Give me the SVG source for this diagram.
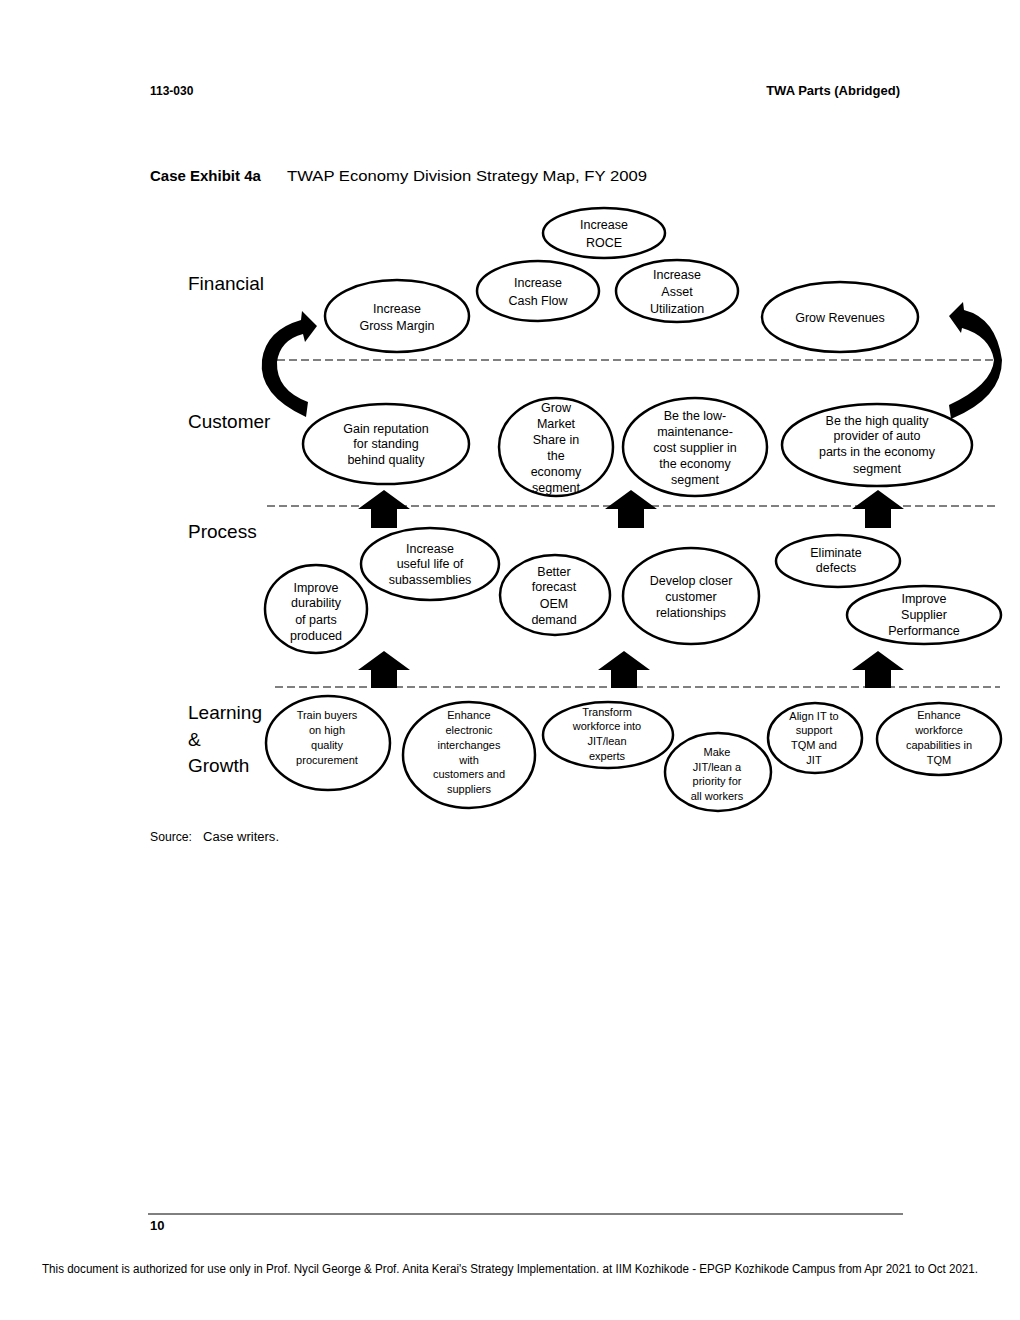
<svg xmlns="http://www.w3.org/2000/svg" width="1020" height="1320" viewBox="0 0 1020 1320">
<style>
text{font-family:"Liberation Sans",Arial,sans-serif;fill:#000}
.n ellipse{fill:#fff;stroke:#000;stroke-width:2.5}
.n text{text-anchor:middle;font-size:12.5px}
.s text{font-size:11px}
.lbl{font-size:19px}
.dash{stroke:#000;stroke-width:1;stroke-dasharray:8 4;fill:none}
.arr{fill:#000}
</style>
<rect width="1020" height="1320" fill="#fff"/>
<text x="150" y="95" font-size="12" font-weight="bold">113-030</text>
<text x="900" y="95" font-size="13" font-weight="bold" text-anchor="end">TWA Parts (Abridged)</text>
<text x="150" y="181" font-size="15" font-weight="bold">Case Exhibit 4a</text>
<text x="287" y="181" font-size="15.5" textLength="360" lengthAdjust="spacingAndGlyphs">TWAP Economy Division Strategy Map, FY 2009</text>

<text class="lbl" x="188" y="290">Financial</text>
<text class="lbl" x="188" y="428">Customer</text>
<text class="lbl" x="188" y="538">Process</text>
<text class="lbl" x="188" y="719">Learning</text>
<text class="lbl" x="188" y="746">&amp;</text>
<text class="lbl" x="188" y="772">Growth</text>

<g id="connectors">
<line class="dash" x1="265" y1="360" x2="1000" y2="360"/>
<line class="dash" x1="267" y1="506" x2="995" y2="506"/>
<line class="dash" x1="275" y1="687" x2="1000" y2="687"/>
<path class="arr" d="M306 417 Q258 395 262 360 Q266 330 301 320 L302 311 L317 326 L305 342 L303 334 Q280 340 277 362 Q276 390 308 402 Z"/>
<path class="arr" d="M949 316 L963 302 L964 310 Q996 318 1002 360 Q1002 398 951 419 L949 405 Q992 385 994 360 Q990 336 962 328 L961 333 Z"/>
<path class="arr" d="M384 490 L410 509 L397 509 L397 528 L371 528 L371 509 L358 509 Z"/>
<path class="arr" d="M631 490 L657 509 L644 509 L644 528 L618 528 L618 509 L605 509 Z"/>
<path class="arr" d="M878 490 L904 509 L891 509 L891 528 L865 528 L865 509 L852 509 Z"/>
<path class="arr" d="M384 651 L410 670 L397 670 L397 688 L371 688 L371 670 L358 670 Z"/>
<path class="arr" d="M624 651 L650 670 L637 670 L637 688 L611 688 L611 670 L598 670 Z"/>
<path class="arr" d="M878 651 L904 670 L891 670 L891 688 L865 688 L865 670 L852 670 Z"/>
</g>

<g id="roce" class="n"><ellipse cx="604" cy="233" rx="61" ry="25"/><text x="604" y="229">Increase</text><text x="604" y="247">ROCE</text></g>
<g id="cashflow" class="n"><ellipse cx="538" cy="291" rx="61" ry="30"/><text x="538" y="287">Increase</text><text x="538" y="305">Cash Flow</text></g>
<g id="asset" class="n"><ellipse cx="677" cy="291" rx="61" ry="31"/><text x="677" y="279">Increase</text><text x="677" y="296">Asset</text><text x="677" y="313">Utilization</text></g>
<g id="grossmargin" class="n"><ellipse cx="397" cy="316" rx="72" ry="36"/><text x="397" y="313">Increase</text><text x="397" y="330">Gross Margin</text></g>
<g id="revenues" class="n"><ellipse cx="840" cy="317" rx="78" ry="35"/><text x="840" y="322">Grow Revenues</text></g>

<g id="reputation" class="n"><ellipse cx="386" cy="444" rx="83" ry="40"/><text x="386" y="433">Gain reputation</text><text x="386" y="448">for standing</text><text x="386" y="464">behind quality</text></g>
<g id="marketshare" class="n"><ellipse cx="556" cy="447" rx="57" ry="49"/><text x="556" y="412">Grow</text><text x="556" y="428">Market</text><text x="556" y="444">Share in</text><text x="556" y="460">the</text><text x="556" y="476">economy</text><text x="556" y="492">segment</text></g>
<g id="lowcost" class="n"><ellipse cx="695" cy="447" rx="72" ry="49"/><text x="695" y="420">Be the low-</text><text x="695" y="436">maintenance-</text><text x="695" y="452">cost supplier in</text><text x="695" y="468">the economy</text><text x="695" y="484">segment</text></g>
<g id="highquality" class="n"><ellipse cx="877" cy="445" rx="95" ry="41"/><text x="877" y="425">Be the high quality</text><text x="877" y="440">provider of auto</text><text x="877" y="456">parts in the economy</text><text x="877" y="473">segment</text></g>

<g id="usefullife" class="n"><ellipse cx="430" cy="564" rx="69" ry="36"/><text x="430" y="553">Increase</text><text x="430" y="568">useful life of</text><text x="430" y="584">subassemblies</text></g>
<g id="durability" class="n"><ellipse cx="316" cy="609" rx="51" ry="44"/><text x="316" y="592">Improve</text><text x="316" y="607">durability</text><text x="316" y="624">of parts</text><text x="316" y="640">produced</text></g>
<g id="forecast" class="n"><ellipse cx="555" cy="595" rx="55" ry="40"/><text x="554" y="576">Better</text><text x="554" y="591">forecast</text><text x="554" y="608">OEM</text><text x="554" y="624">demand</text></g>
<g id="relationships" class="n"><ellipse cx="691" cy="596" rx="68" ry="48"/><text x="691" y="585">Develop closer</text><text x="691" y="601">customer</text><text x="691" y="617">relationships</text></g>
<g id="defects" class="n"><ellipse cx="838" cy="561" rx="62" ry="26"/><text x="836" y="557">Eliminate</text><text x="836" y="572">defects</text></g>
<g id="supplier" class="n"><ellipse cx="924" cy="615" rx="77" ry="29"/><text x="924" y="603">Improve</text><text x="924" y="619">Supplier</text><text x="924" y="635">Performance</text></g>

<g id="trainbuyers" class="n s"><ellipse cx="328" cy="743" rx="62" ry="47"/><text x="327" y="719">Train buyers</text><text x="327" y="734">on high</text><text x="327" y="749">quality</text><text x="327" y="764">procurement</text></g>
<g id="electronic" class="n s"><ellipse cx="469" cy="755" rx="66" ry="53"/><text x="469" y="719">Enhance</text><text x="469" y="734">electronic</text><text x="469" y="749">interchanges</text><text x="469" y="764">with</text><text x="469" y="778">customers and</text><text x="469" y="793">suppliers</text></g>
<g id="transform" class="n s"><ellipse cx="608" cy="735" rx="65" ry="33"/><text x="607" y="716">Transform</text><text x="607" y="730">workforce into</text><text x="607" y="745">JIT/lean</text><text x="607" y="760">experts</text></g>
<g id="jitpriority" class="n s"><ellipse cx="718" cy="772" rx="53" ry="39"/><text x="717" y="756">Make</text><text x="717" y="771">JIT/lean a</text><text x="717" y="785">priority for</text><text x="717" y="800">all workers</text></g>
<g id="alignit" class="n s"><ellipse cx="815" cy="738" rx="47" ry="35"/><text x="814" y="720">Align IT to</text><text x="814" y="734">support</text><text x="814" y="749">TQM and</text><text x="814" y="764">JIT</text></g>
<g id="workforce" class="n s"><ellipse cx="939" cy="739" rx="62" ry="36"/><text x="939" y="719">Enhance</text><text x="939" y="734">workforce</text><text x="939" y="749">capabilities in</text><text x="939" y="764">TQM</text></g>

<text x="150" y="841" font-size="12" textLength="42" lengthAdjust="spacingAndGlyphs">Source:</text>
<text x="203" y="841" font-size="12" textLength="76" lengthAdjust="spacingAndGlyphs">Case writers.</text>

<line x1="148" y1="1214" x2="903" y2="1214" stroke="#000" stroke-width="1"/>
<text x="150" y="1230" font-size="13" font-weight="bold">10</text>
<text x="42" y="1273" font-size="12" textLength="936" lengthAdjust="spacingAndGlyphs">This document is authorized for use only in Prof. Nycil George &amp; Prof. Anita Kerai's Strategy Implementation. at IIM Kozhikode - EPGP Kozhikode Campus from Apr 2021 to Oct 2021.</text>
</svg>
